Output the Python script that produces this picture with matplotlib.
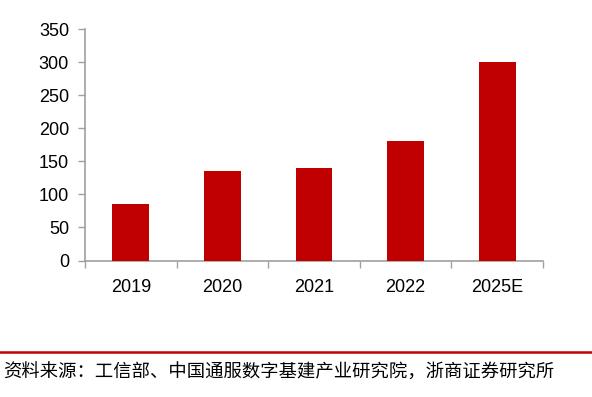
import matplotlib
matplotlib.use("Agg")
import matplotlib.pyplot as plt
import numpy as np

categories = ["2019", "2020", "2021", "2022", "2025E"]
values = [86, 135, 140, 180, 300]
yticks = [0, 50, 100, 150, 200, 250, 300, 350]
source = "资料来源：工信部、中国通服数字基建产业研究院，浙商证券研究所"

W, H = 592, 397
fig = plt.figure(figsize=(W/100, H/100), dpi=100)
ax = fig.add_axes([85/W, 1-260.5/H, (543-85)/W, (260.5-29)/H])

x = np.arange(len(categories))
ax.bar(x, values, width=0.4, color="#C00000", zorder=3)
ax.set_xlim(-0.5, len(categories)-0.5)
ax.set_ylim(0, 350)
ax.set_yticks(yticks)
ax.set_yticklabels([str(t) for t in yticks], fontsize=13, family="Liberation Sans")
ax.set_xticks(x)
ax.set_xticklabels(categories, fontsize=13, family="Liberation Sans")
# category boundary ticks
ax.set_xticks(np.arange(-0.5, len(categories)), minor=True)
ax.tick_params(axis="x", which="major", length=0, pad=13)
ax.tick_params(axis="x", which="minor", length=5, direction="out", color="#A0A0A0", width=1)
ax.tick_params(axis="y", length=5, direction="out", color="#A0A0A0", width=1, pad=6.5)
for s in ["top", "right"]:
    ax.spines[s].set_visible(False)
for s in ["left", "bottom"]:
    ax.spines[s].set_color("#A0A0A0")
    ax.spines[s].set_linewidth(1.2)

fig.add_artist(plt.Line2D([0, 1], [1-352/H, 1-352/H], color="#C00000", lw=1.8, transform=fig.transFigure))
fig.text(3/W, 1-373/H, source, fontsize=13.2, va="center", ha="left",
         family=["Noto Sans CJK SC", "DejaVu Sans"])

fig.savefig("out.png", dpi=100)
